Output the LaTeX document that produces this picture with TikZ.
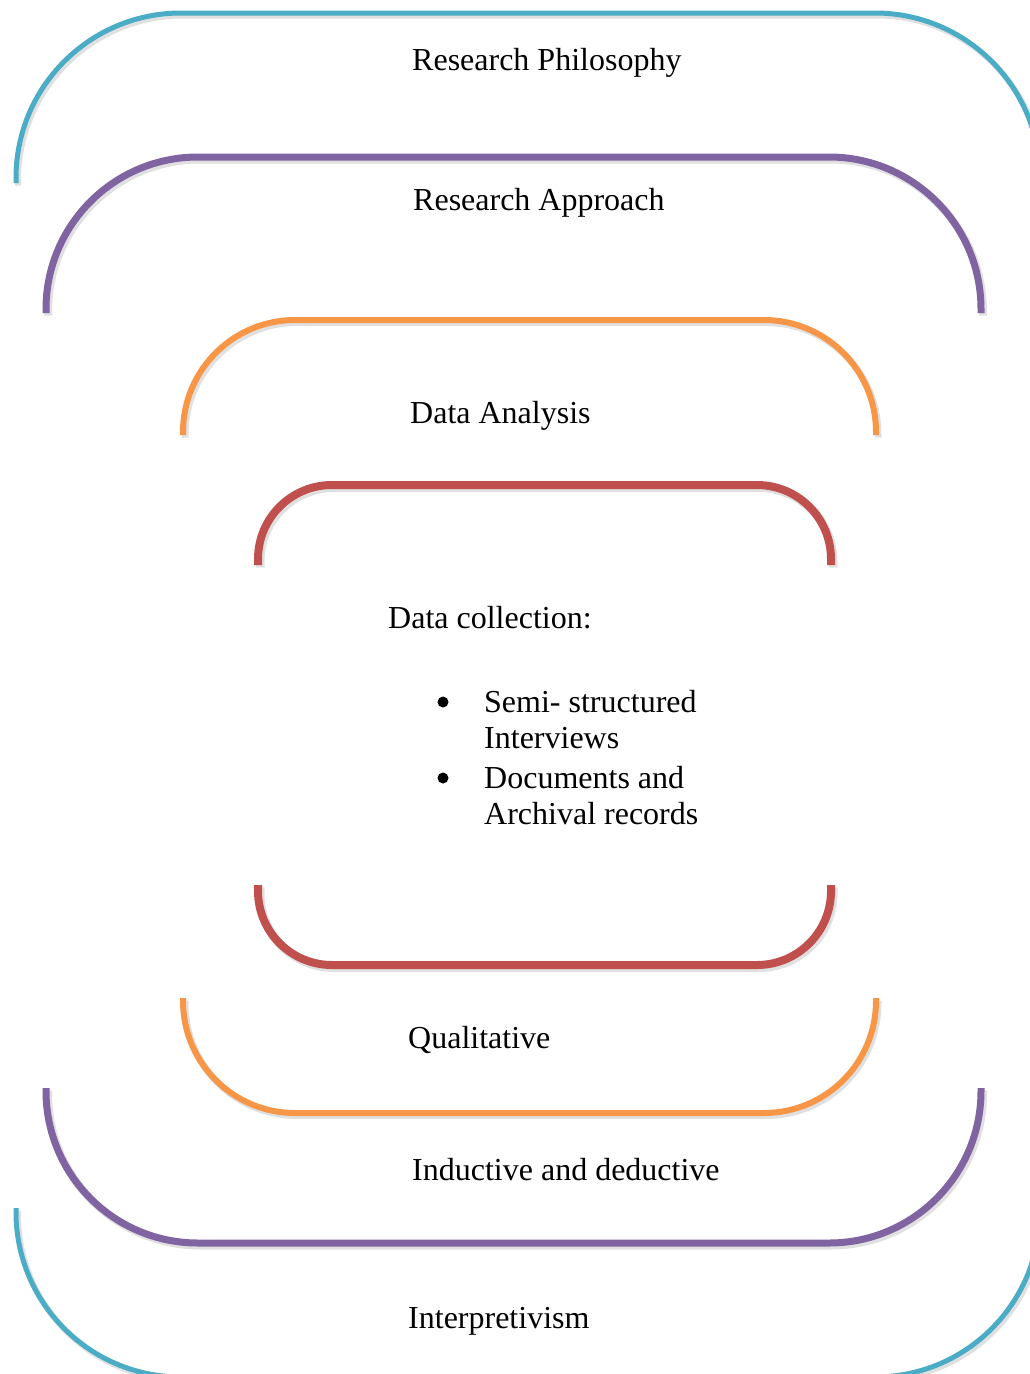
\documentclass[tikz,border=0pt]{standalone}
\usepackage{fontspec}
\setmainfont{Liberation Serif}
\definecolor{cCyan}{HTML}{4BACC6}
\definecolor{cPurple}{HTML}{8064A2}
\definecolor{cOrange}{HTML}{F79646}
\definecolor{cRed}{HTML}{C0504D}
\begin{document}
\begin{tikzpicture}[x=1pt,y=-1pt,
  lbl/.style={anchor=base west,inner sep=0pt,font=\fontsize{32}{38}\selectfont},
  dot/.style={circle,fill=black,inner sep=0pt,minimum size=11},
  band/.style={line cap=butt},
  shade/.style={draw=black,opacity=0.12,line cap=butt,shift={(2,2.5)}}]
\useasboundingbox (0,0) rectangle (1030,1374);
\clip (0,0) rectangle (1030,1374);
% shadows
\draw[shade,line width=6,rounded corners=165] (16,183) -- (16,13) -- (1040,13) -- (1040,183);
\draw[shade,line width=6,rounded corners=165] (16,1208) -- (16,1377) -- (1040,1377) -- (1040,1208);
\draw[shade,line width=8,rounded corners=152] (46,313) -- (46,157) -- (981,157) -- (981,313);
\draw[shade,line width=8,rounded corners=152] (46,1088) -- (46,1243) -- (981,1243) -- (981,1088);
\draw[shade,line width=7,rounded corners=112] (183,435) -- (183,320) -- (876,320) -- (876,435);
\draw[shade,line width=7,rounded corners=112] (183,998) -- (183,1113) -- (876,1113) -- (876,998);
\draw[shade,line width=9,rounded corners=74] (258,565) -- (258,485) -- (831,485) -- (831,565);
\draw[shade,line width=9,rounded corners=74] (258,885) -- (258,965) -- (831,965) -- (831,885);
% bands
\draw[band,cCyan,line width=5,rounded corners=165] (16,183) -- (16,13) -- (1040,13) -- (1040,183);
\draw[band,cCyan,line width=5,rounded corners=165] (16,1208) -- (16,1377) -- (1040,1377) -- (1040,1208);
\draw[band,cPurple,line width=7,rounded corners=152] (46,313) -- (46,157) -- (981,157) -- (981,313);
\draw[band,cPurple,line width=7,rounded corners=152] (46,1088) -- (46,1243) -- (981,1243) -- (981,1088);
\draw[band,cOrange,line width=6,rounded corners=112] (183,435) -- (183,320) -- (876,320) -- (876,435);
\draw[band,cOrange,line width=6,rounded corners=112] (183,998) -- (183,1113) -- (876,1113) -- (876,998);
\draw[band,cRed,line width=8,rounded corners=74] (258,565) -- (258,485) -- (831,485) -- (831,565);
\draw[band,cRed,line width=8,rounded corners=74] (258,885) -- (258,965) -- (831,965) -- (831,885);
% texts
\node[lbl] (phil) at (412,70) {Research Philosophy};
\node[lbl] (appr) at (413,210) {Research Approach};
\node[lbl] (anal) at (410,423) {Data Analysis};
\node[lbl] (coll) at (388,628) {Data collection:};
\node[dot] (b1) at (443,702) {};
\node[lbl] (i1a) at (484,712) {Semi- structured};
\node[lbl] (i1b) at (484,748) {Interviews};
\node[dot] (b2) at (443,778) {};
\node[lbl] (i2a) at (484,788) {Documents and};
\node[lbl] (i2b) at (484,824) {Archival records};
\node[lbl] (qual) at (408,1048) {Qualitative};
\node[lbl] (indu) at (412,1180) {Inductive and deductive};
\node[lbl] (intp) at (408,1328) {Interpretivism};
\end{tikzpicture}
\end{document}
